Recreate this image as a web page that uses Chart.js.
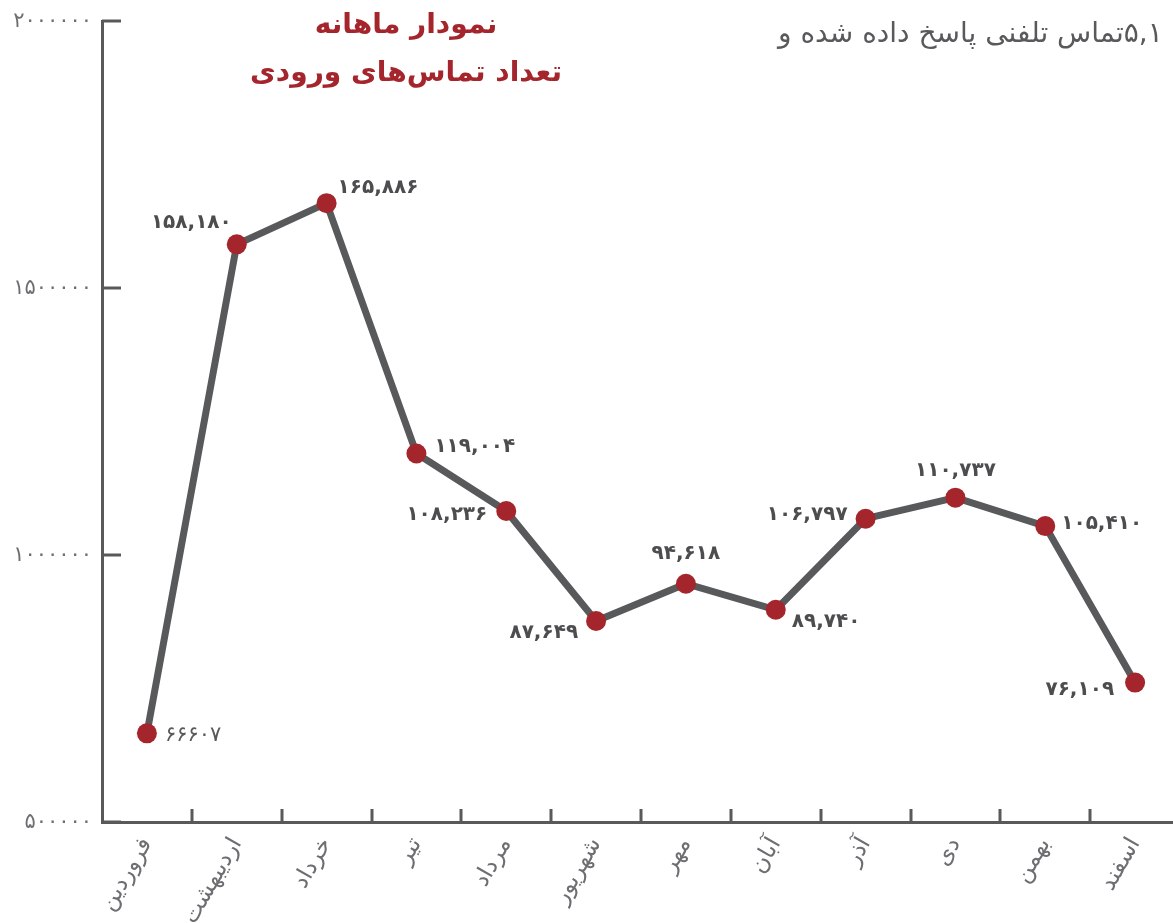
<!DOCTYPE html>
<html>
<head>
<meta charset="utf-8">
<script src="https://cdn.jsdelivr.net/npm/chart.js@4.4.1/dist/chart.umd.min.js"></script>
<style>
  html, body { margin: 0; padding: 0; background: #ffffff; overflow: hidden; width: 1173px; height: 923px; }
  #wrap { position: absolute; left: 0; top: 0; width: 1190px; height: 923px; }
</style>
</head>
<body>
<div id="wrap"><canvas id="c" width="1190" height="923"></canvas></div>
<script>
// ---- data ----
const months = ['فروردین', 'اردیبهشت', 'خرداد', 'تیر', 'مرداد', 'شهریور', 'مهر', 'آبان', 'آذر', 'دی', 'بهمن', 'اسفند'];
const calls = [666070, 1581800, 1658860, 1190040, 1082360, 876490, 946180, 897400, 1067970, 1107370, 1054100, 761090];
const callLabels = ['۶۶۶۰۷', '۱۵۸,۱۸۰', '۱۶۵,۸۸۶', '۱۱۹,۰۰۴', '۱۰۸,۲۳۶', '۸۷,۶۴۹', '۹۴,۶۱۸', '۸۹,۷۴۰', '۱۰۶,۷۹۷', '۱۱۰,۷۳۷', '۱۰۵,۴۱۰', '۷۶,۱۰۹'];
const yTicks = [500000, 1000000, 1500000, 2000000];
const titleLines = ['نمودار ماهانه', 'تعداد تماس‌های ورودی'];
const noteText = '۵,۱تماس تلفنی پاسخ داده شده و';

const GRAY = '#58595b';
const RED = '#a4262c';
const FONT = '"DejaVu Sans", sans-serif';

function toFa(s) {
  return String(s).replace(/[0-9]/g, d => '۰۱۲۳۴۵۶۷۸۹'[+d]);
}

// inward tick marks and y tick labels
const axisExtras = {
  id: 'axisExtras',
  afterDraw(chart) {
    const ctx = chart.ctx, x = chart.scales.x, y = chart.scales.y;
    ctx.save();
    ctx.strokeStyle = GRAY;
    ctx.lineWidth = 3;
    ctx.lineCap = 'butt';
    yTicks.forEach(v => {
      const py = Math.round(y.getPixelForValue(v));
      ctx.beginPath(); ctx.moveTo(x.left, py); ctx.lineTo(x.left + 19, py); ctx.stroke();
    });
    for (let i = 1; i < months.length; i++) {
      const px = Math.round((x.getPixelForValue(i - 1) + x.getPixelForValue(i)) / 2);
      ctx.beginPath(); ctx.moveTo(px, y.bottom); ctx.lineTo(px, y.bottom - 13); ctx.stroke();
    }
    // y tick labels, spaced out like the reference
    ctx.font = '21px ' + FONT;
    ctx.fillStyle = '#6d6e71';
    ctx.textBaseline = 'middle';
    ctx.textAlign = 'right';
    const ref = toFa(2000000);
    const w0 = ctx.measureText(ref).width;
    const ls = Math.max(0, (80 - w0) / ref.length);
    ctx.letterSpacing = ls.toFixed(2) + 'px';
    yTicks.forEach(v => {
      ctx.fillText(toFa(v), x.left - 10 + ls, y.getPixelForValue(v) + 1);
    });
    ctx.letterSpacing = '0px';
    ctx.restore();
  }
};

// value labels beside points
const pointLabels = {
  id: 'pointLabels',
  afterDatasetsDraw(chart, args, opts) {
    const ctx = chart.ctx;
    const meta = chart.getDatasetMeta(0);
    ctx.save();
    ctx.textBaseline = 'middle';
    meta.data.forEach((pt, i) => {
      const p = opts.place[i];
      ctx.font = (p[3] ? 'bold 20px ' : '21px ') + FONT;
      ctx.fillStyle = p[3] ? '#4d4d4f' : GRAY;
      ctx.textAlign = p[2];
      ctx.fillText(callLabels[i], pt.x + p[0], pt.y + p[1]);
    });
    ctx.restore();
  }
};

// headings (right-to-left Persian text)
const headings = {
  id: 'headings',
  afterDraw(chart) {
    const ctx = chart.ctx;
    ctx.save();
    ctx.direction = 'rtl';
    ctx.textBaseline = 'middle';
    ctx.textAlign = 'center';
    ctx.fillStyle = RED;
    let fs = 26;
    ctx.font = 'bold ' + fs + 'px ' + FONT;
    const w2 = ctx.measureText(titleLines[1]).width;
    fs = Math.max(16, Math.min(30, fs * 312 / w2));
    ctx.font = 'bold ' + fs.toFixed(1) + 'px ' + FONT;
    ctx.fillText(titleLines[0], 406, 26);
    ctx.fillText(titleLines[1], 406, 74);

    // note text at top right, running off the right edge
    ctx.fillStyle = GRAY;
    let ns = 24;
    ctx.font = ns + 'px ' + FONT;
    const wn = ctx.measureText(noteText).width;
    ns = Math.max(14, Math.min(28, ns * 408 / wn));
    ctx.font = ns.toFixed(1) + 'px ' + FONT;
    ctx.textBaseline = 'alphabetic';
    ctx.textAlign = 'left';
    ctx.fillText(noteText, 778, 42);
    ctx.restore();
  }
};

new Chart(document.getElementById('c'), {
  type: 'line',
  data: {
    labels: months,
    datasets: [{
      data: calls,
      borderColor: GRAY,
      borderWidth: 7,
      tension: 0,
      pointRadius: 10,
      pointHoverRadius: 10,
      pointBackgroundColor: RED,
      pointBorderWidth: 0,
      clip: false
    }]
  },
  options: {
    responsive: false,
    animation: false,
    devicePixelRatio: 1,
    layout: { padding: { top: 21, right: 0, bottom: 0, left: 0 } },
    plugins: {
      legend: { display: false },
      tooltip: { enabled: false },
      title: { display: false },
      pointLabels: {
        place: [
          [18, 2, 'left', false],
          [-5, -22, 'right', true],
          [11, -15, 'left', true],
          [18, -7, 'left', true],
          [-19, 4, 'right', true],
          [-18, 12, 'right', true],
          [0, -30, 'center', true],
          [16, 12, 'left', true],
          [-18, -4, 'right', true],
          [0, -27, 'center', true],
          [16, -2, 'left', true],
          [-21, 7, 'right', true]
        ]
      }
    },
    scales: {
      x: {
        offset: true,
        grid: { display: true, offset: true, drawOnChartArea: false, drawTicks: false },
        border: { display: true, color: GRAY, width: 3 },
        ticks: {
          autoSkip: false,
          minRotation: 60,
          maxRotation: 60,
          padding: 11,
          color: '#6d6e71',
          font: { family: FONT, size: 23 }
        },
        afterFit(s) { s.height = 101; }
      },
      y: {
        min: 500000,
        max: 2000000,
        afterBuildTicks(s) { s.ticks = yTicks.map(v => ({ value: v })); },
        grid: { display: true, drawOnChartArea: false, drawTicks: false },
        border: { display: true, color: GRAY, width: 3 },
        ticks: {
          padding: 10,
          color: 'rgba(0,0,0,0)',
          font: { family: FONT, size: 17 },
          callback: v => toFa(v)
        },
        afterFit(s) { s.width = 102; }
      }
    }
  },
  plugins: [axisExtras, pointLabels, headings]
});
</script>
</body>
</html>
